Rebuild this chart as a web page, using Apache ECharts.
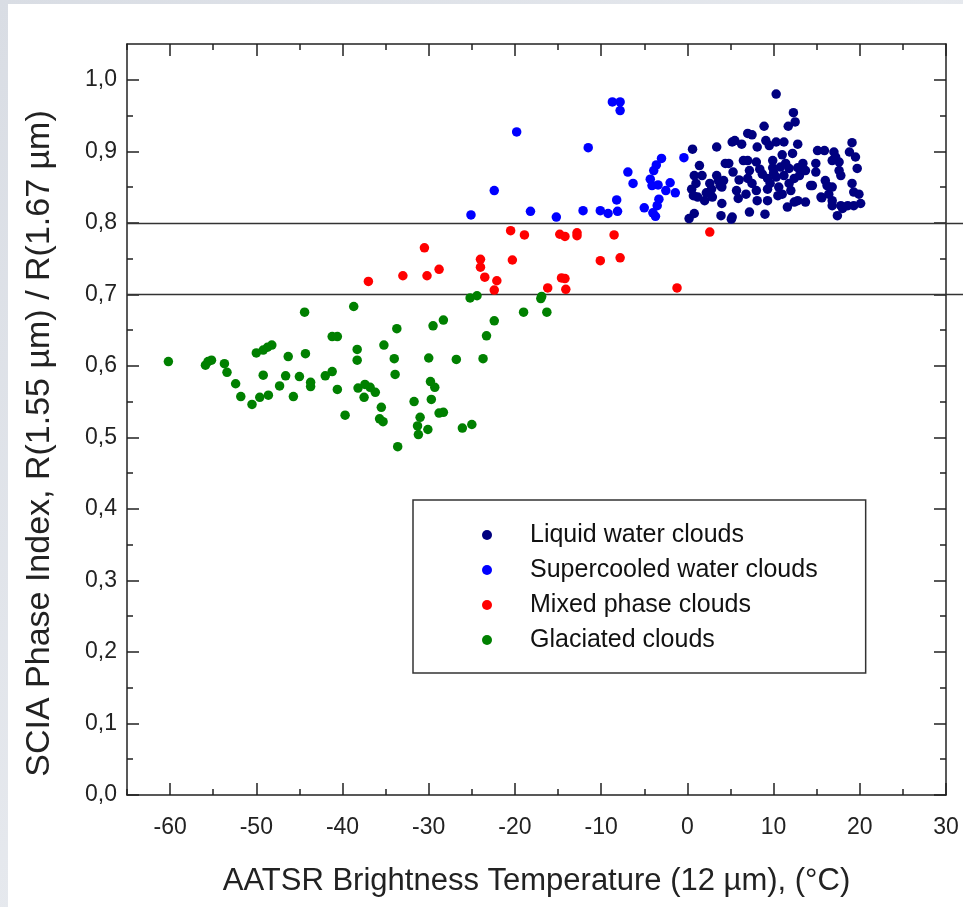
<!DOCTYPE html>
<html>
<head>
<meta charset="utf-8">
<script src="https://cdn.jsdelivr.net/npm/echarts@6/dist/echarts.min.js"></script>
<style>
html,body{margin:0;padding:0;width:963px;height:907px;overflow:hidden;}
body{background:linear-gradient(135deg,#d9dde4 0%,#e6e9ee 50%,#d5dae2 100%);}
#paper{position:absolute;left:8px;top:4px;right:0;bottom:0;background:#fff;}
#chart{position:absolute;left:0;top:0;width:963px;height:907px;}
</style>
</head>
<body>
<div id="paper"></div>
<div id="chart"></div>
<script>
// ---- data ----
const seriesNames = ['Liquid water clouds', 'Supercooled water clouds', 'Mixed phase clouds', 'Glaciated clouds'];
const liquid = [
[0.6,0.903],[1.4,0.880],[0.8,0.866],[1.7,0.866],[0.5,0.847],[0.7,0.838],[1.2,0.836],[0.8,0.813],[0.2,0.806],[2.0,0.831],[2.6,0.855],[2.8,0.847],[2.9,0.836],[3.4,0.906],[3.4,0.866],[3.6,0.859],[3.8,0.852],[4.0,0.850],[4.2,0.859],[4.0,0.827],[3.9,0.810],[4.4,0.883],[4.8,0.883],[5.2,0.913],[5.5,0.915],[5.3,0.871],[5.7,0.845],[5.9,0.834],[5.2,0.808],[6.3,0.910],[6.5,0.887],
[10.3,0.980],[12.3,0.954],[12.5,0.941],[11.7,0.935],[8.9,0.935],[7.0,0.925],[7.5,0.923],[8.1,0.906],[9.1,0.915],[9.5,0.908],[10.3,0.913],[11.2,0.913],[12.8,0.910],[12.2,0.897],[11.0,0.895],[9.9,0.887],[7.0,0.887],[8.0,0.885],[7.2,0.873],[8.7,0.868],[9.9,0.877],[11.4,0.883],[11.8,0.876],[12.8,0.877],[13.4,0.883],[7.0,0.862],[7.5,0.855],[9.3,0.862],[10.3,0.864],[11.2,0.866],[12.4,0.862],[6.8,0.840],[8.0,0.845],[9.3,0.847],[10.6,0.850],[11.8,0.855],[8.1,0.831],[9.3,0.831],[11.0,0.840],[12.4,0.829],[12.8,0.831],[9.0,0.812],[11.6,0.822],[7.2,0.815],
[19.1,0.912],[18.8,0.899],[19.5,0.892],[19.7,0.876],[15.1,0.901],[15.9,0.901],[17.0,0.899],[17.2,0.892],[16.8,0.887],[17.6,0.885],[14.9,0.883],[14.9,0.871],[17.6,0.873],[17.8,0.866],[13.7,0.873],[14.3,0.852],[16.0,0.859],[16.2,0.852],[16.8,0.850],[16.4,0.840],[15.5,0.836],[16.8,0.831],[19.1,0.855],[19.3,0.843],[19.9,0.840],[13.7,0.829],[16.8,0.824],[17.8,0.824],[18.6,0.824],[19.3,0.824],[20.1,0.827],[18.0,0.820],[17.4,0.810],[5.1,0.805],[15.6,0.835],[14.5,0.852],
[10.0,0.870],[10.8,0.878],[9.6,0.855],[10.5,0.838],[8.4,0.875],[6.0,0.860],[13.0,0.866],[2.2,0.842],[1.0,0.855],[12.0,0.845]
];
const supercooled = [
[-25.1,0.811],[-18.2,0.816],[-15.2,0.808],[-12.1,0.817],[-10.1,0.817],[-9.2,0.813],[-8.1,0.816],[-8.2,0.832],[-8.7,0.969],[-7.8,0.969],[-7.8,0.957],[-19.8,0.927],[-11.5,0.905],[-22.4,0.845],[-6.9,0.871],[-6.3,0.855],[-5.0,0.821],[-4.3,0.861],[-4.1,0.852],[-3.9,0.873],[-3.6,0.881],[-3.0,0.890],[-3.4,0.853],[-2.5,0.845],[-2.0,0.856],[-1.4,0.842],[-3.3,0.833],[-3.5,0.824],[-4.0,0.814],[-3.7,0.809],[-0.4,0.891]
];
const mixed = [
[-37.0,0.718],[-33.0,0.726],[-30.5,0.765],[-30.2,0.726],[-28.8,0.735],[-24.0,0.749],[-24.0,0.738],[-23.5,0.724],[-22.1,0.719],[-22.4,0.706],[-20.5,0.789],[-18.9,0.783],[-20.3,0.748],[-14.8,0.784],[-14.2,0.781],[-12.8,0.786],[-12.8,0.782],[-16.2,0.709],[-14.6,0.723],[-14.2,0.722],[-14.1,0.707],[-8.5,0.783],[-10.1,0.747],[-7.8,0.751],[-1.2,0.709],[2.6,0.787]
];
const glaciated = [
[-60.2,0.606],[-55.9,0.601],[-55.6,0.606],[-55.2,0.608],[-53.7,0.603],[-53.4,0.591],[-52.4,0.575],[-51.8,0.557],[-50.5,0.546],[-49.6,0.556],[-48.6,0.559],[-49.2,0.587],[-50.0,0.618],[-49.2,0.622],[-48.7,0.626],[-48.2,0.629],[-47.3,0.572],[-46.6,0.586],[-46.3,0.613],[-45.7,0.557],[-45.0,0.585],[-44.4,0.675],[-44.3,0.617],[-43.7,0.577],[-43.7,0.571],[-42.0,0.586],[-41.2,0.592],[-41.2,0.641],[-40.6,0.641],[-40.6,0.567],[-39.7,0.531],[-38.7,0.683],[-38.3,0.623],[-38.3,0.608],[-38.2,0.569],[-37.4,0.574],[-37.5,0.556],[-36.8,0.570],[-36.2,0.563],[-35.2,0.629],[-35.5,0.542],[-35.7,0.526],[-35.3,0.522],[-33.7,0.652],[-34.0,0.610],[-33.9,0.588],[-33.6,0.487],[-25.2,0.695],[-24.4,0.698],[-16.9,0.697],[-17.0,0.694],[-19.0,0.675],[-16.3,0.675],[-22.4,0.663],[-23.3,0.642],[-23.7,0.610],[-26.8,0.609],[-28.3,0.664],[-29.5,0.656],[-30.0,0.611],[-29.8,0.578],[-29.3,0.570],[-29.7,0.553],[-31.7,0.550],[-31.0,0.528],[-31.3,0.516],[-31.2,0.504],[-30.1,0.511],[-28.8,0.534],[-28.3,0.535],[-26.1,0.513],[-25.0,0.518]
];
const refLines = [0.7, 0.8];
const xMin = -65, xMax = 30;
const yMin = 0, yMax = 1.05;
const xTicks = [-60,-50,-40,-30,-20,-10,0,10,20,30];
const xMinorTicks = [-65,-55,-45,-35,-25,-15,-5,5,15,25];
const yTicks = [0,0.1,0.2,0.3,0.4,0.5,0.6,0.7,0.8,0.9,1.0];
const yMinorTicks = [0.05,0.15,0.25,0.35,0.45,0.55,0.65,0.75,0.85,0.95];
const xTitle = 'AATSR Brightness Temperature (12 µm), (°C)';
const yTitle = 'SCIA Phase Index, R(1.55 µm) / R(1.67 µm)';
const colors = ['#000080', '#0000ff', '#ff0000', '#008000'];

// ---- chart ----
const FONT = '"Liberation Sans", Arial, sans-serif';
const AX = '#222';
const chart = echarts.init(document.getElementById('chart'), null, {renderer: 'canvas'});

function xAxisDef(pos, ticks, len, labels, line, extra) {
  return Object.assign({
    type: 'value', min: xMin, max: xMax, position: pos, gridIndex: 0,
    axisLine: {show: line, onZero: false, lineStyle: {color: AX, width: 1.5}},
    axisTick: {show: true, inside: true, length: len, customValues: ticks, lineStyle: {color: AX, width: 1.5}},
    axisLabel: labels ? {show: true, customValues: ticks, fontSize: 23, color: AX, fontFamily: FONT, margin: 21} : {show: false},
    splitLine: {show: false}
  }, extra || {});
}
function yAxisDef(pos, ticks, len, labels, line, extra) {
  return Object.assign({
    type: 'value', min: yMin, max: yMax, position: pos, gridIndex: 0,
    axisLine: {show: line, onZero: false, lineStyle: {color: AX, width: 1.5}},
    axisTick: {show: true, inside: true, length: len, customValues: ticks, lineStyle: {color: AX, width: 1.5}},
    axisLabel: labels ? {show: true, customValues: ticks, fontSize: 23, color: AX, fontFamily: FONT, margin: 10,
      formatter: v => v.toFixed(1).replace('.', ',')} : {show: false},
    splitLine: {show: false}
  }, extra || {});
}

const data = [liquid, supercooled, mixed, glaciated];
const series = seriesNames.map((n, i) => ({
  name: n, type: 'scatter', xAxisIndex: 0, yAxisIndex: 0,
  data: data[i], symbol: 'circle', symbolSize: 9.5,
  itemStyle: {color: colors[i], opacity: 1},
  z: 3 + (3 - i)
}));

chart.setOption({
  animation: false,
  backgroundColor: 'transparent',
  textStyle: {fontFamily: FONT},
  grid: {left: 127, right: 17, top: 44, bottom: 112, containLabel: false},
  xAxis: [
    xAxisDef('bottom', xTicks, 12, true, true, {
      name: xTitle, nameLocation: 'middle', nameGap: 71,
      nameTextStyle: {fontSize: 31, color: AX, fontFamily: FONT}
    }),
    xAxisDef('bottom', xMinorTicks, 6, false, false),
    xAxisDef('top', xTicks, 12, false, true),
    xAxisDef('top', xMinorTicks, 6, false, false)
  ],
  yAxis: [
    yAxisDef('left', yTicks, 12, true, true, {
      name: yTitle, nameLocation: 'middle', nameGap: 70, nameRotate: 90,
      nameTextStyle: {fontSize: 34, color: AX, fontFamily: FONT, padding: [0, 48, 0, 0]}
    }),
    yAxisDef('left', yMinorTicks, 6, false, false),
    yAxisDef('right', yTicks, 12, false, true),
    yAxisDef('right', yMinorTicks, 6, false, false)
  ],
  legend: {
    data: seriesNames, orient: 'vertical', left: 413, top: 500,
    icon: 'circle', itemWidth: 10, itemHeight: 10, itemGap: 7,
    padding: [21, 48, 19, 69],
    backgroundColor: '#fff', borderColor: '#333', borderWidth: 1.5, borderRadius: 0,
    textStyle: {fontSize: 25, lineHeight: 28, color: '#111', fontFamily: FONT, padding: [0, 0, 0, 33]},
    selectedMode: false
  },
  series: series
});

// reference lines drawn through the library's scales
const x0 = chart.convertToPixel({xAxisIndex: 0}, xMin);
const graphics = refLines.map(v => {
  const py = Math.round(chart.convertToPixel({yAxisIndex: 0}, v)) + 0.5;
  return {type: 'line', shape: {x1: x0, y1: py, x2: 963, y2: py},
    style: {stroke: '#333', lineWidth: 1.5}, z: 2, silent: true};
});
chart.setOption({graphic: graphics});
</script>
</body>
</html>
